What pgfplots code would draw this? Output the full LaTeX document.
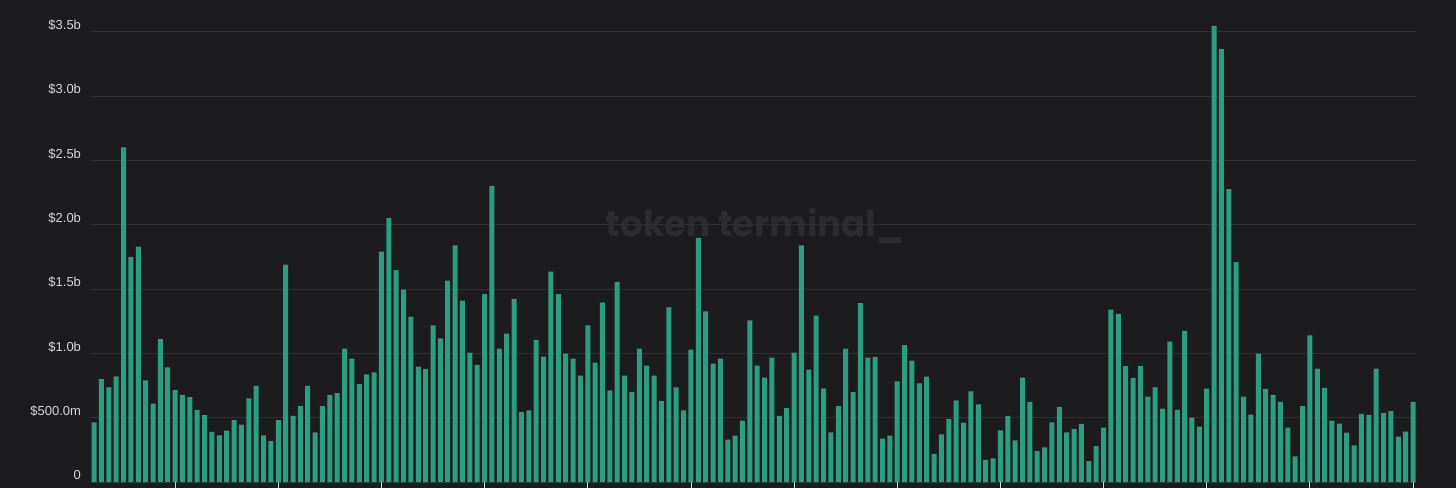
\documentclass[border=0pt]{standalone}
\usepackage{pgfplots}
\usepackage{pgfplotstable}
\pgfplotsset{compat=1.18}
\usepackage{fontspec}
\setmainfont{Liberation Sans}
\newfontfamily\wmfont{Poppins}

\definecolor{bgc}{HTML}{1C1C1E}
\definecolor{barc}{HTML}{2A9E7E}
\definecolor{gridc}{HTML}{303033}
\definecolor{labc}{HTML}{D8D8D8}
\definecolor{wmc}{HTML}{2C2C2F}

% daily volume, billions USD
\pgfplotstableread{
v
0.464
0.80
0.736
0.82
2.60
1.75
1.83
0.79
0.61
1.11
0.89
0.715
0.677
0.659
0.56
0.52
0.39
0.363
0.40
0.48
0.446
0.65
0.747
0.363
0.32
0.48
1.69
0.513
0.59
0.747
0.386
0.59
0.677
0.69
1.037
0.959
0.76
0.837
0.853
1.79
2.05
1.646
1.495
1.285
0.897
0.88
1.218
1.117
1.565
1.84
1.41
1.005
0.91
1.46
2.30
1.037
1.153
1.423
0.544
0.557
1.104
0.975
1.635
1.46
0.998
0.959
0.827
1.218
0.928
1.397
0.713
1.555
0.827
0.698
1.037
0.905
0.827
0.63
1.358
0.736
0.557
1.029
1.897
1.327
0.92
0.959
0.329
0.36
0.477
1.257
0.905
0.811
0.967
0.513
0.575
1.005
1.84
0.873
1.293
0.728
0.386
0.59
1.037
0.698
1.39
0.967
0.972
0.337
0.36
0.783
1.063
0.943
0.767
0.819
0.218
0.371
0.49
0.635
0.461
0.705
0.604
0.171
0.184
0.402
0.513
0.324
0.811
0.62
0.239
0.27
0.464
0.583
0.386
0.412
0.451
0.163
0.278
0.422
1.34
1.306
0.90
0.809
0.90
0.663
0.736
0.57
1.091
0.56
1.174
0.50
0.43
0.726
3.546
3.367
2.276
1.708
0.663
0.523
0.998
0.723
0.677
0.622
0.422
0.20
0.59
1.14
0.881
0.731
0.477
0.453
0.383
0.285
0.529
0.521
0.881
0.537
0.55
0.352
0.391
0.622
}\volume

\begin{document}
\begin{tikzpicture}
% canvas
\fill[bgc] (-90bp,-6bp) rectangle (1366bp,482bp);
% watermark
\node[wmc, font=\wmfont\bfseries\fontsize{35.5bp}{40bp}\selectfont, inner sep=0pt]
  at (665bp,256bp) {token terminal\_};
\begin{axis}[
  scale only axis,
  width=1326bp, height=482bp,
  xmin=-0.55, xmax=179.4,
  ymin=0, ymax=3.7463,
  axis x line*=bottom, axis y line*=left,
  axis line style={draw=none},
  ymajorgrids,
  grid style={color=gridc, line width=0.9bp},
  ytick={0,0.5,1,1.5,2,2.5,3,3.5},
  yticklabels={0,\$500.0m,\$1.0b,\$1.5b,\$2.0b,\$2.5b,\$3.0b,\$3.5b},
  yticklabel style={anchor=east, xshift=0.5bp, yshift=6.5bp, text=labc,
    font=\fontsize{13bp}{15bp}\selectfont},
  ytick style={draw=none},
  xtick={11,25,...,179},
  xticklabels={},
  tick align=outside,
  major tick length=6bp,
  xtick style={color=labc, line width=0.8bp},
  clip=false,
]
\addplot[ybar, bar width=5bp, fill=barc, draw=none]
  table[x expr=\coordindex, y=v] {\volume};
\end{axis}
\pgfresetboundingbox
\useasboundingbox (-90bp,-6bp) rectangle (1366bp,482bp);
\end{tikzpicture}
\end{document}
